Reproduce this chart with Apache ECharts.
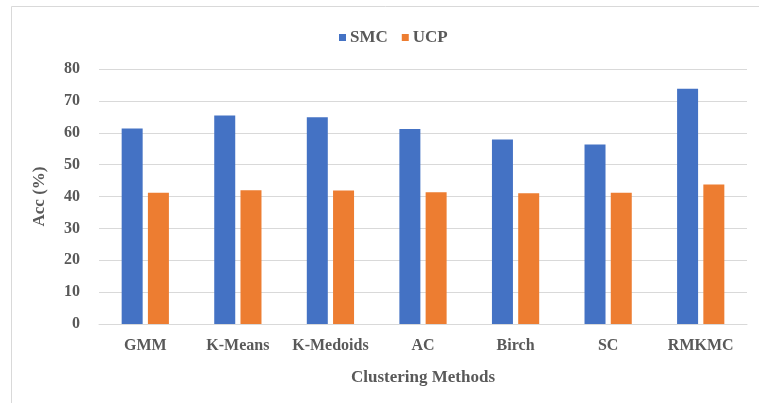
<!DOCTYPE html>
<html><head><meta charset="utf-8">
<script src="https://cdn.jsdelivr.net/npm/echarts@6/dist/echarts.min.js"></script>
<style>html,body{margin:0;padding:0;background:#fff}#c{width:759px;height:403px}</style>
</head><body><div id="c"></div>
<script>
const categories = ['GMM','K-Means','K-Medoids','AC','Birch','SC','RMKMC'];
const smc = [61.3, 65.4, 64.9, 61.2, 57.9, 56.3, 73.8];
const ucp = [41.2, 42.0, 41.9, 41.3, 41.0, 41.2, 43.8];
const yTicks = [0, 80, 10];
const font = '"Liberation Serif", "Times New Roman", serif';
const chart = echarts.init(document.getElementById('c'));
chart.setOption({
  animation: false,
  graphic: [{type:'rect', shape:{x:11.5,y:6.5,width:760,height:410}, style:{fill:'none', stroke:'#d9d9d9', lineWidth:1}, silent:true}],
  legend: {
    top: 24, left: 334, itemWidth: 7, itemHeight: 7, itemGap: 14,
    icon: 'rect',
    textStyle: {fontFamily: font, fontWeight: 'bold', fontSize: 17, color: '#595959', padding:[0,0,0,-1]},
    data: ['SMC','UCP']
  },
  grid: {left: 99, right: 12, top: 69, bottom: 79},
  xAxis: {
    type: 'category', data: categories,
    name: 'Clustering Methods', nameLocation: 'middle', nameGap: 45,
    nameTextStyle: {fontFamily: font, fontWeight: 'bold', fontSize: 17, color: '#595959'},
    axisLine: {lineStyle: {color: '#d9d9d9', width: 1}},
    axisTick: {show: false},
    axisLabel: {interval: 0, fontFamily: font, fontWeight: 'bold', fontSize: 16, color: '#595959', margin: 14}
  },
  yAxis: {
    type: 'value', min: yTicks[0], max: yTicks[1], interval: yTicks[2],
    name: 'Acc (%)', nameLocation: 'middle', nameGap: 51,
    nameTextStyle: {fontFamily: font, fontWeight: 'bold', fontSize: 17, color: '#595959'},
    axisLine: {show: false}, axisTick: {show: false},
    splitLine: {lineStyle: {color: '#d9d9d9', width: 1}},
    axisLabel: {fontFamily: font, fontWeight: 'bold', fontSize: 16, color: '#595959', margin: 19}
  },
  series: [
    {name: 'SMC', type: 'bar', data: smc, barWidth: 21, barGap: '25%', itemStyle: {color: '#4472C4'}},
    {name: 'UCP', type: 'bar', data: ucp, barWidth: 21, itemStyle: {color: '#ED7D31'}}
  ]
});
</script></body></html>
